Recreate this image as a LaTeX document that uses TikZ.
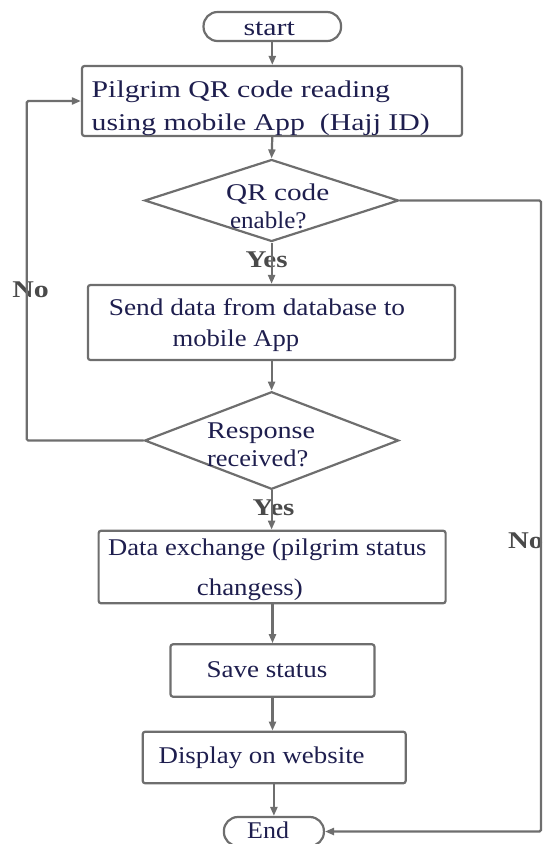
\documentclass[tikz,border=0pt]{standalone}
\usepackage{fontspec}
\usepackage{graphicx}
\setmainfont{Liberation Serif}
\usetikzlibrary{shapes.geometric,arrows.meta}
\definecolor{linegray}{HTML}{6E6E6E}
\definecolor{txtnavy}{HTML}{1E1E4E}
\definecolor{lblgray}{HTML}{4A4A4A}
\newcommand{\hsq}[2]{\scalebox{#1}[1]{#2}}
\begin{document}
\begin{tikzpicture}[x=1pt,y=-1pt,
  box/.style={draw=linegray, line width=2.2pt, rounded corners=2.5pt, inner sep=0pt},
  term/.style={draw=linegray, line width=2.2pt, rounded corners=14pt, inner sep=0pt},
  dec/.style={diamond, draw=linegray, line width=2.2pt, inner sep=0pt},
  arr/.style={draw=linegray, line width=2.2pt, rounded corners=1.5pt, -{Triangle[length=9pt,width=7pt]}},
  tx/.style={text=txtnavy, font=\fontsize{24}{28}\selectfont, inner sep=0pt, anchor=base west},
  lbl/.style={text=lblgray, font=\bfseries\fontsize{24}{28}\selectfont, inner sep=0pt, anchor=base west}]
\useasboundingbox (0,0) rectangle (546,844);

% shapes
\node[term, minimum width=137.5pt, minimum height=29pt] (start) at (272.3,26.5) {};
\node[box, minimum width=380pt, minimum height=70pt] (b1) at (272,101) {};
\node[dec, minimum width=254pt, minimum height=82pt] (d1) at (271.6,200.5) {};
\node[box, minimum width=367pt, minimum height=75pt] (b2) at (271.4,322.5) {};
\node[dec, minimum width=254pt, minimum height=97.6pt] (d2) at (271.6,440.5) {};
\node[box, minimum width=347pt, minimum height=72.6pt] (b3) at (272.1,567) {};
\node[box, minimum width=204pt, minimum height=52.4pt] (b4) at (272.5,670.5) {};
\node[box, minimum width=263pt, minimum height=51.6pt] (b5) at (274.2,757.5) {};
\node[term, minimum width=100pt, minimum height=29pt] (end) at (273.9,831.5) {};

% texts
\node[tx] (tstart) at (243.3,35) {\hsq{1.245}{start}};
\node[tx] (t1a) at (91.5,97) {\hsq{1.24}{Pilgrim QR code reading}};
\node[tx] (t1b) at (91.5,130) {\hsq{1.24}{using mobile App\ \ (Hajj ID)}};
\node[tx] (td1a) at (226,200) {\hsq{1.217}{QR code}};
\node[tx] (td1b) at (229.8,228.3) {\hsq{1.045}{enable?}};
\node[tx] (t2a) at (108.6,315.7) {\hsq{1.14}{Send data from database to}};
\node[tx] (t2b) at (172.4,346.7) {\hsq{1.11}{mobile App}};
\node[tx] (td2a) at (207,438.3) {\hsq{1.174}{Response}};
\node[tx] (td2b) at (207,466) {\hsq{1.10}{received?}};
\node[tx] (t3a) at (108,555) {\hsq{1.108}{Data exchange (pilgrim status}};
\node[tx] (t3b) at (196.7,595) {\hsq{1.12}{changess)}};
\node[tx] (t4) at (206.5,677.3) {\hsq{1.125}{Save status}};
\node[tx] (t5) at (158.4,763.3) {\hsq{1.12}{Display on website}};
\node[tx] (tend) at (247,838) {\hsq{1.083}{End}};

% labels
\node[lbl] (yes1) at (245.5,267.5) {\hsq{1.207}{Yes}};
\node[lbl] (yes2) at (252.4,515.8) {\hsq{1.207}{Yes}};
\node[lbl] (noL) at (12.2,297.5) {\hsq{1.245}{No}};
\node[lbl] (noR) at (508,548) {\hsq{1.2}{No}};

% connectors
\coordinate (lc) at (26.7,440.5);
\coordinate (rc) at (541,200.5);
\draw[arr] (start.south) -- (start.south |- b1.north);
\draw[arr] (b1.south -| start.south) -- (d1.north);
\draw[arr] (d1.south) -- (d1.south |- b2.north);
\draw[arr] (b2.south -| d2.north) -- (d2.north);
\draw[arr] (d2.south) -- (d2.south |- b3.north);
\draw[arr] (b3.south -| b4.north) -- (b4.north);
\draw[arr] (b4.south) -- (b4.south |- b5.north);
\draw[arr] (b5.south -| end.north) -- (end.north);
\draw[arr] (d2.west) -- (lc) |- (b1.west);
\draw[arr] (d1.east) -- (rc) |- (end.east);
\end{tikzpicture}
\end{document}
